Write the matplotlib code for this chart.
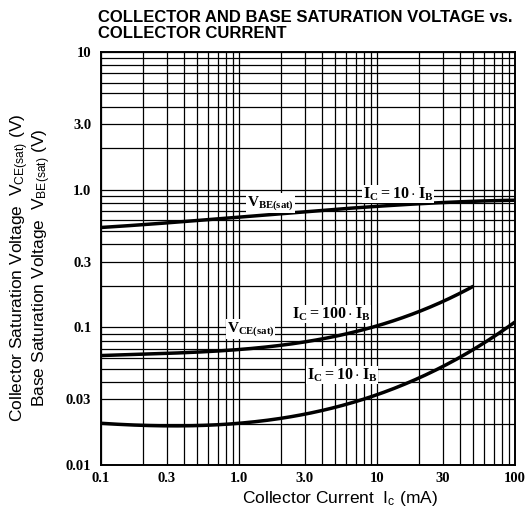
#!/usr/bin/env python3
"""
Collector / base saturation voltage vs collector current (datasheet-style log-log chart).
"""

import numpy as np
import matplotlib
matplotlib.use("Agg")
import matplotlib.pyplot as plt
from matplotlib.ticker import LogLocator, NullFormatter

# sans text for axis labels, bold serif for ticks and in-plot annotations
plt.rcParams['mathtext.fontset'] = 'custom'
plt.rcParams['mathtext.rm'] = 'Liberation Sans'
plt.rcParams['mathtext.it'] = 'Liberation Sans:italic'
plt.rcParams['mathtext.bf'] = 'Liberation Serif:bold'

# --- data (Ic in mA, V in volts) ---
ic_vbe = [0.1, 0.3, 1.0, 3.0, 10, 30, 100]
vbe_sat = [0.53, 0.58, 0.62, 0.70, 0.76, 0.80, 0.84]

ic_vce100 = [0.1, 0.3, 1.0, 3.0, 10, 20, 50]
vce_sat_100 = [0.063, 0.063, 0.070, 0.080, 0.100, 0.130, 0.200]

ic_vce10 = [0.1, 0.3, 1.0, 3.0, 10, 20, 50, 100]
vce_sat_10 = [0.020, 0.0195, 0.020, 0.023, 0.033, 0.043, 0.068, 0.110]

x_ticks = [0.1, 0.3, 1.0, 3.0, 10, 30, 100]
x_tick_labels = ['0.1', '0.3', '1.0', '3.0', '10', '30', '100']
y_ticks = [0.01, 0.03, 0.1, 0.3, 1.0, 3.0, 10]
y_tick_labels = ['0.01', '0.03', '0.1', '0.3', '1.0', '3.0', '10']


def smooth(xs, ys, n=200):
    """Smooth curve through the read points (log-log, cubic)."""
    lx, ly = np.log10(xs), np.log10(ys)
    t = np.linspace(lx[0], lx[-1], n)
    coef = np.polyfit(lx, ly, 3)
    return 10 ** t, 10 ** np.polyval(coef, t)


fig = plt.figure(figsize=(5.29, 5.15), dpi=100)
ax = fig.add_axes([101 / 529, 1 - 465 / 515, 414 / 529, 413 / 515])

ax.set_xscale('log')
ax.set_yscale('log')
ax.set_xlim(0.1, 100)
ax.set_ylim(0.01, 10)

ax.tick_params(which='both', length=0)
ax.tick_params(axis='x', pad=5)
ax.tick_params(axis='y', pad=7)

tick_font = dict(family='Liberation Serif', fontweight='bold', fontsize=10.5)
ax.set_xticks(x_ticks)
ax.set_xticklabels(x_tick_labels, **tick_font)
ax.set_yticks(y_ticks)
ax.set_yticklabels(y_tick_labels, **tick_font)

# grid lines at 1..9 in every decade (majors cover the labelled ones)
ax.xaxis.set_minor_locator(LogLocator(base=10, subs=np.arange(1, 10), numticks=20))
ax.yaxis.set_minor_locator(LogLocator(base=10, subs=np.arange(1, 10), numticks=20))
ax.xaxis.set_minor_formatter(NullFormatter())
ax.yaxis.set_minor_formatter(NullFormatter())
ax.grid(True, which='major', color='black', linewidth=0.9)
ax.grid(True, which='minor', color='black', linewidth=0.9)

for s in ax.spines.values():
    s.set_linewidth(1.4)

# curves
for xs, ys in [(ic_vbe, vbe_sat), (ic_vce100, vce_sat_100), (ic_vce10, vce_sat_10)]:
    sx, sy = smooth(xs, ys)
    ax.plot(sx, sy, color='black', linewidth=2.5, solid_capstyle='butt', zorder=3)

# annotations
box = dict(facecolor='white', edgecolor='none', pad=0.5)
ax.text(1.14, 0.80, r'$\mathbf{V_{BE(sat)}}$', fontsize=11, va='center', ha='left', bbox=box, zorder=4)
ax.text(7.9, 0.93, r'$\mathbf{I_C=10\cdot I_B}$', fontsize=11.5, va='center', ha='left', bbox=box, zorder=4)
ax.text(0.82, 0.097, r'$\mathbf{V_{CE(sat)}}$', fontsize=11, va='center', ha='left', bbox=box, zorder=4)
ax.text(2.42, 0.125, r'$\mathbf{I_C=100\cdot I_B}$', fontsize=11.5, va='center', ha='left', bbox=box, zorder=4)
ax.text(3.1, 0.045, r'$\mathbf{I_C=10\cdot I_B}$', fontsize=11.5, va='center', ha='left', bbox=box, zorder=4)

# title
fig.text(98 / 529, 1 - 10 / 515, 'COLLECTOR AND BASE SATURATION VOLTAGE vs.\nCOLLECTOR CURRENT',
         ha='left', va='top', fontsize=12, fontweight='bold', family='Liberation Sans',
         linespacing=1.08)

# axis labels
fig.text(340 / 529, 1 - 498 / 515, r'Collector Current  I$_\mathrm{c}$ (mA)',
         ha='center', va='center', fontsize=12.5, family='Liberation Sans')
fig.text(20 / 529, 1 - 268 / 515, r'Collector Saturation Voltage  V$_\mathrm{CE(sat)}$ (V)',
         ha='center', va='center', rotation=90, fontsize=12.5, family='Liberation Sans')
fig.text(42 / 529, 1 - 268 / 515, r'Base Saturation Voltage  V$_\mathrm{BE(sat)}$ (V)',
         ha='center', va='center', rotation=90, fontsize=12.5, family='Liberation Sans')

fig.savefig('out.png', dpi=100)
